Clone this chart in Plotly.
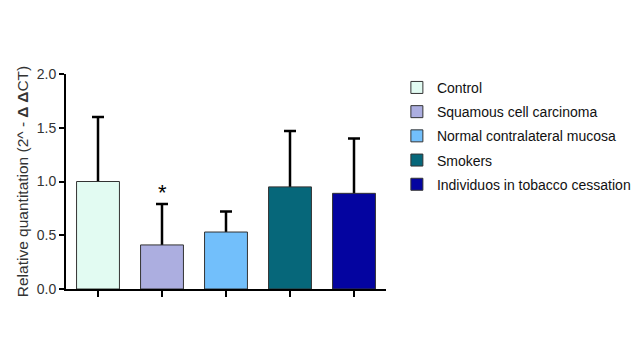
import plotly.graph_objects as go

categories = ["Control", "Squamous cell carcinoma", "Normal contralateral mucosa",
              "Smokers", "Individuos in tobacco cessation"]
means = [1.0, 0.41, 0.53, 0.95, 0.89]
errors_up = [0.60, 0.38, 0.19, 0.52, 0.51]
colors = ["#e2fbf2", "#acaee0", "#72bffb", "#06677a", "#0404a0"]
y_ticks = [0.0, 0.5, 1.0, 1.5, 2.0]
tick_labels = ["0.0", "0.5", "1.0", "1.5", "2.0"]
star_category = "Squamous cell carcinoma"
star_y = 0.90

fig = go.Figure()
# error bars first (hidden bars), so the visible bars cover the lower half
for cat, m, e in zip(categories, means, errors_up):
    fig.add_trace(go.Bar(
        x=[cat], y=[m], width=0.67, showlegend=False, hoverinfo="skip",
        marker=dict(color="rgba(0,0,0,0)", line=dict(width=0)),
        error_y=dict(type="data", symmetric=True, array=[e],
                     color="black", thickness=2.5, width=6),
    ))
for i, (cat, m, c) in enumerate(zip(categories, means, colors)):
    fig.add_trace(go.Bar(
        x=[cat], y=[m], name=cat, width=0.67,
        marker=dict(color=c, line=dict(color="#333333", width=1)),
        legendgroup=f"g{i}",
    ))

fig.add_annotation(x=star_category, y=star_y, text="*", showarrow=False,
                   font=dict(size=22, color="black", family="Liberation Sans"))

fig.update_layout(
    width=640, height=360,
    margin=dict(l=58, r=260, t=66, b=79),
    barmode="overlay",
    plot_bgcolor="white", paper_bgcolor="white",
    font=dict(family="Liberation Sans, Arial, sans-serif", size=14, color="#222222"),
    showlegend=True,
    legend=dict(x=1.034, y=1.01, xanchor="left", yanchor="top",
                font=dict(size=14, color="#111111"), tracegroupgap=3,
                bgcolor="rgba(0,0,0,0)"),
    xaxis=dict(type="category", categoryorder="array", categoryarray=categories,
               range=[-0.5, 4.5], showticklabels=False, ticks="outside",
               ticklen=6, tickwidth=1.5, tickcolor="black",
               showline=True, linecolor="black", linewidth=2, showgrid=False,
               zeroline=False),
    yaxis=dict(range=[0, 2], tickvals=y_ticks, ticktext=tick_labels,
               ticks="outside", ticklen=5, tickwidth=1.5, tickcolor="black",
               showline=True, linecolor="black", linewidth=2, showgrid=False,
               zeroline=False, tickfont=dict(size=14, color="#333333"),
               title=dict(text="Relative quantitation (2^ - <b>\u0394 \u0394</b>CT)",
                          font=dict(size=15.5, color="#333333"), standoff=4)),
)

fig.write_html("out.html")
